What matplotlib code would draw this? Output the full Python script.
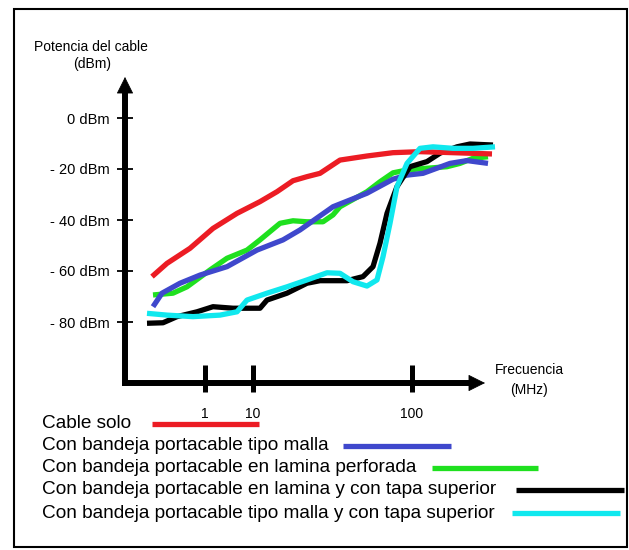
import matplotlib
matplotlib.use("Agg")
import matplotlib.pyplot as plt
from matplotlib.lines import Line2D
from matplotlib.patches import Rectangle

plt.rcParams['font.family'] = ['Liberation Sans', 'DejaVu Sans']

# ---------------- data ----------------
# x: position along the (schematic) frequency axis, y: power in dBm
y_ticks = [0, -20, -40, -60, -80]
y_tick_labels = ["0 dBm", "- 20 dBm", "- 40 dBm", "- 60 dBm", "- 80 dBm"]
x_ticks = [80, 128, 287]
x_tick_labels = ["1", "10", "100"]

red_x = [27, 42, 65, 88, 112, 135, 152, 168, 182, 195, 215, 242, 268, 295, 328, 367]
red_y = [-62.2, -57.0, -51.1, -43.3, -37.4, -32.8, -28.9, -24.6, -23.0, -21.7,
         -16.5, -14.9, -13.6, -13.2, -13.6, -14.1]

blue_x = [28, 37, 55, 75, 102, 132, 158, 175, 208, 242, 268, 282, 298, 325, 342, 363]
blue_y = [-74.0, -68.7, -64.8, -61.6, -58.3, -51.8, -47.8, -43.9, -34.8, -29.5,
          -24.0, -22.4, -21.7, -17.8, -16.7, -17.8]

green_x = [28, 48, 62, 85, 102, 122, 135, 155, 168, 182, 198, 208, 215, 242, 255,
           268, 282, 302, 322, 335, 348, 363]
green_y = [-69.4, -68.7, -66.2, -59.6, -55.0, -51.8, -47.8, -41.3, -40.3, -40.7,
           -40.7, -38.0, -34.8, -28.9, -25.0, -21.5, -20.4, -19.7, -19.1, -17.8,
           -15.8, -15.2]

black_x = [22, 38, 52, 72, 88, 108, 122, 135, 142, 162, 182, 195, 222, 238, 248,
           255, 262, 272, 285, 302, 315, 332, 345, 368]
black_y = [-80.5, -80.3, -77.9, -76.0, -74.0, -74.6, -74.6, -74.6, -71.4, -68.7,
           -64.8, -63.8, -63.8, -62.2, -58.3, -49.1, -37.4, -26.9, -19.1, -17.1,
           -13.8, -11.3, -10.2, -10.6]

cyan_x = [22, 42, 68, 95, 112, 122, 142, 162, 182, 202, 215, 228, 242, 252, 258,
          265, 272, 282, 295, 308, 328, 348, 370]
cyan_y = [-76.6, -77.3, -77.9, -77.3, -76.0, -71.4, -68.7, -66.2, -63.5, -60.7,
          -60.9, -64.2, -65.9, -63.5, -54.4, -41.3, -26.9, -17.8, -11.9, -11.3,
          -11.9, -11.9, -11.3]

legend_labels = [
    "Cable solo",
    "Con bandeja portacable tipo malla",
    "Con bandeja portacable en lamina perforada",
    "Con bandeja portacable en lamina y con tapa superior",
    "Con bandeja portacable tipo malla y con tapa superior",
]

# ---------------- style / layout ----------------
C_RED, C_BLUE, C_GREEN, C_BLACK, C_CYAN = "#ec1c24", "#3f48cc", "#1fe01f", "#000000", "#10e8ee"

W, H = 629, 550
fig = plt.figure(figsize=(W / 100, H / 100), dpi=100)

def fx(px):
    return px / W

def fy(py):
    return 1 - py / H

X0, X1 = 125, 485        # pixel columns of axis origin and x-arrow tip
Y_TOP, Y_BOT = 77, 383   # pixel rows of y-arrow tip and x-axis
PX_DB = 2.55             # pixels per dBm, 0 dBm at row 118
ax = fig.add_axes([fx(X0), fy(Y_BOT), (X1 - X0) / W, (Y_BOT - Y_TOP) / H])
ax.set_xlim(0, X1 - X0)
ymin, ymax = (118 - Y_BOT) / PX_DB, (118 - Y_TOP) / PX_DB
ax.set_ylim(ymin, ymax)
ax.patch.set_alpha(0)

for s in ("top", "right"):
    ax.spines[s].set_visible(False)
AX_LW = 4.3
ax.spines["left"].set_linewidth(AX_LW)
ax.spines["bottom"].set_linewidth(AX_LW)
ax.spines["left"].set_bounds(ymin, ymax - 6)
ax.spines["bottom"].set_bounds(0, (X1 - X0) - 10)
ax.spines["left"].set_capstyle("projecting")
ax.spines["bottom"].set_capstyle("projecting")

# arrow heads
ax.annotate("", xy=(0, ymax), xytext=(0, ymax - 8),
            arrowprops=dict(arrowstyle="-|>,head_length=1.0,head_width=0.5",
                            mutation_scale=11, lw=0.5, color="black",
                            shrinkA=0, shrinkB=0),
            annotation_clip=False)
ax.annotate("", xy=(X1 - X0, ymin), xytext=(X1 - X0 - 20, ymin),
            arrowprops=dict(arrowstyle="-|>,head_length=1.0,head_width=0.5",
                            mutation_scale=11, lw=0.5, color="black",
                            shrinkA=0, shrinkB=0),
            annotation_clip=False)

# y ticks
ax.set_yticks(y_ticks, y_tick_labels)
ax.tick_params(axis="y", direction="inout", length=11.5, width=1.3, pad=5.5,
               labelsize=10.5, color="black")
# x ticks (labels through axis, bars drawn as thick marks)
ax.set_xticks(x_ticks, x_tick_labels)
ax.tick_params(axis="x", length=0, pad=17, labelsize=10)
ax.vlines(x_ticks, (118 - 392) / PX_DB, (118 - 365) / PX_DB, colors="black",
          lw=3.6, clip_on=False)

LW = 3.8
series = [
    (green_x, green_y, C_GREEN),
    (blue_x, blue_y, C_BLUE),
    (black_x, black_y, C_BLACK),
    (red_x, red_y, C_RED),
    (cyan_x, cyan_y, C_CYAN),
]
for xs, ys, c in series:
    ax.plot(xs, ys, color=c, lw=LW, solid_capstyle="butt",
            solid_joinstyle="round", clip_on=False)

# axis titles
fig.text(fx(91), fy(47), "Potencia del cable", ha="center", va="center", fontsize=10)
fig.text(fx(92), fy(64), "(dBm)", ha="center", va="center", fontsize=10)
fig.text(fx(529), fy(370), "Frecuencia", ha="center", va="center", fontsize=10)
fig.text(fx(529), fy(390), "(MHz)", ha="center", va="center", fontsize=10)

# hand-drawn style legend
leg_rows = [424, 446, 468, 490, 513]
leg_lines = [(152, 259), (343, 451), (432, 538), (516, 624), (512, 620)]
leg_colors = [C_RED, C_BLUE, C_GREEN, C_BLACK, C_CYAN]
for lab, row, (a, b), c in zip(legend_labels, leg_rows, leg_lines, leg_colors):
    fig.text(fx(42), fy(row), lab, ha="left", va="center", fontsize=13.7)
    fig.add_artist(Line2D([fx(a), fx(b)], [fy(row), fy(row)], color=c, lw=LW,
                          solid_capstyle="butt", transform=fig.transFigure))

# outer frame
fig.add_artist(Rectangle((fx(14), fy(547)), (627 - 14) / W, (547 - 9) / H,
                         fill=False, lw=1.5, ec="black", transform=fig.transFigure))

fig.savefig("out.png", dpi=100)
